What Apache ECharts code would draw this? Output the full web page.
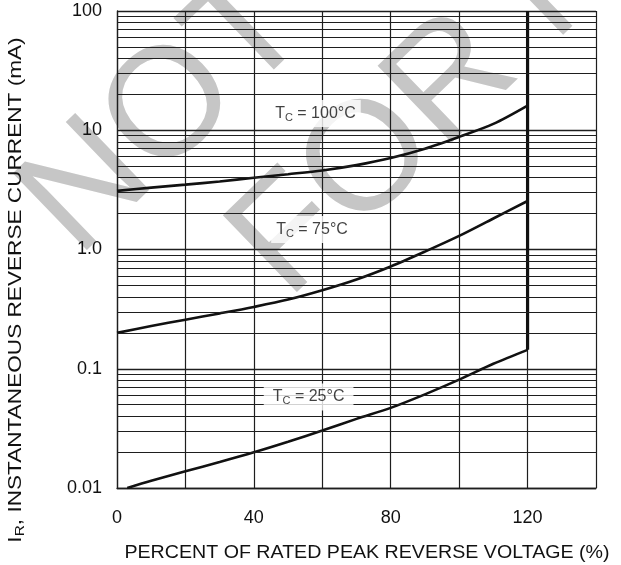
<!DOCTYPE html>
<html>
<head>
<meta charset="utf-8">
<script src="https://cdn.jsdelivr.net/npm/echarts@6/dist/echarts.min.js"></script>
<style>
html,body{margin:0;padding:0;background:#fff;}
#c{width:621px;height:565px;}
</style>
</head>
<body>
<div id="c"></div>
<script>
// ---- data ----
const xPct = [0,10,20,30,40,50,60,70,80,90,100,110,120];
const tc100 = [3.1,3.3,3.5,3.72,4.0,4.28,4.6,5.1,5.85,7.0,8.8,11.3,16.1];
const tc75  = [0.20,0.228,0.258,0.291,0.33,0.38,0.455,0.56,0.72,0.96,1.30,1.82,2.55];
const x25   = [3,10,20,30,40,50,60,70,80,90,100,110,120];
const tc25  = [0.010,0.0115,0.0138,0.0165,0.0199,0.0244,0.0303,0.038,0.047,0.061,0.081,0.110,0.144];
const limitX = [120,120];
const limitY = [0.144,100];
const xTickLabels = [0,40,80,120];
const yTickLabels = ['0.01','0.1','1.0','10','100'];
const minorGrid = [0.02,0.03,0.04,0.05,0.06,0.07,0.08,0.09,
                   0.2,0.3,0.4,0.5,0.6,0.7,0.8,0.9,
                   2,3,4,5,6,7,8,9,
                   20,30,40,50,60,70,80,90];
const curveNames = ['100°C','75°C','25°C'];

const pair = (xs, ys) => xs.map((x,i)=>[x, ys[i]]);

const chart = echarts.init(document.getElementById('c'), null, {renderer:'canvas'});
const FONT = 'Arial, "Liberation Sans", Helvetica, sans-serif';
const lineCol = '#1e1e1e';
const wmCol = '#c6c6c6';
const theta = 44*Math.PI/180;

function tcLabel(t){
  return '{a|T}{s|C}{a| = ' + t + '}';
}
const richT = {
  a:{fontSize:16, fontFamily:FONT, color:'#111', lineHeight:19},
  s:{fontSize:11, fontFamily:FONT, color:'#111', verticalAlign:'bottom', lineHeight:12, padding:[6,0,0,0]}
};

const option = {
  backgroundColor:'#fff',
  animation:false,
  graphic:[
    {type:'text', z:-5, x:48, y:228, rotation:theta,
     style:{text:'NOT', fontSize:155, fontFamily:FONT, fill:wmCol, align:'left', verticalAlign:'middle'}},
    {type:'text', z:-5, x:258, y:270, rotation:theta,
     style:{text:'FOR NEW', fontSize:155, fontFamily:FONT, fill:wmCol, align:'left', verticalAlign:'middle'}},
    {type:'text', x:367, y:553, scaleX:1.09,
     style:{text:'PERCENT OF RATED PEAK REVERSE VOLTAGE (%)', fontSize:18, fontFamily:FONT, fill:'#111', align:'center', verticalAlign:'middle'}},
    {type:'text', x:16, y:290, rotation:Math.PI/2, scaleX:1.19,
     style:{text:'{a|I}{s|R}{a|, INSTANTANEOUS REVERSE CURRENT (mA)}', align:'center', verticalAlign:'middle',
       rich:{a:{fontSize:19, fontFamily:FONT, fill:'#111', lineHeight:21},
             s:{fontSize:13, fontFamily:FONT, fill:'#111', verticalAlign:'bottom', lineHeight:13, padding:[7,0,0,0]}}}}
  ],
  grid:{left:117, top:11, right:25, bottom:77, show:false},
  xAxis:{
    type:'value', min:0, max:140, interval:20,
    axisLine:{show:true, onZero:false, lineStyle:{color:lineCol, width:1.3}},
    axisTick:{show:false},
    splitLine:{show:true, lineStyle:{color:lineCol, width:1.2}},
    axisLabel:{fontSize:18, fontFamily:FONT, color:'#111', margin:21,
      formatter:v => xTickLabels.indexOf(v) >= 0 ? String(v) : ''}
  },
  yAxis:{
    type:'log', logBase:10, min:0.01, max:100,
    axisLine:{show:true, lineStyle:{color:lineCol, width:1.3}},
    axisTick:{show:false},
    splitLine:{show:true, lineStyle:{color:lineCol, width:1.4}},
    axisLabel:{fontSize:18, fontFamily:FONT, color:'#111', margin:15,
      formatter:v => { const e = Math.round(Math.log10(v)); return yTickLabels[e+2] || ''; }}
  },
  series:[
    {type:'line', name:'grid', data:[], silent:true, z:1,
     markLine:{silent:true, symbol:['none','none'], label:{show:false}, animation:false,
       lineStyle:{color:lineCol, width:1.2, type:'solid'},
       data:minorGrid.map(v=>({yAxis:v}))}},
    {type:'line', name:curveNames[0], data:pair(xPct, tc100), smooth:0.3, symbol:'none', z:3,
     lineStyle:{color:'#111', width:2.6}},
    {type:'line', name:curveNames[1], data:pair(xPct, tc75), smooth:0.3, symbol:'none', z:3,
     lineStyle:{color:'#111', width:2.6}},
    {type:'line', name:curveNames[2], data:pair(x25, tc25), smooth:0.3, symbol:'none', z:3,
     lineStyle:{color:'#111', width:2.6}},
    {type:'line', name:'limit', data:pair(limitX, limitY), symbol:'none', z:3,
     lineStyle:{color:'#111', width:3.2}},
    {type:'scatter', name:'labels', symbolSize:1, z:5, silent:true,
     itemStyle:{color:'rgba(0,0,0,0)'},
     data:[
       {value:[58,13.8], label:{formatter:tcLabel(curveNames[0])}},
       {value:[57,1.47], label:{formatter:tcLabel(curveNames[1])}},
       {value:[56,0.058], label:{formatter:tcLabel(curveNames[2]), padding:[4,9,4,9]}}
     ],
     label:{show:true, position:'inside', backgroundColor:'#fff', padding:[4,5,4,5], rich:richT}}
  ]
};
chart.setOption(option);
</script>
</body>
</html>
